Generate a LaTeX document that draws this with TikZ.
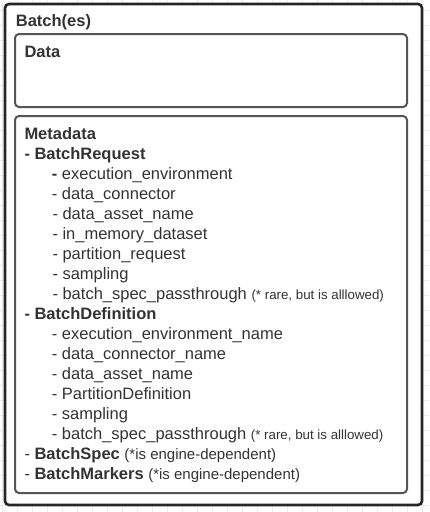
\documentclass[tikz,border=0pt]{standalone}
\usepackage{fontspec}
\setmainfont{Liberation Sans}
\definecolor{ink}{HTML}{333333}
\definecolor{outerline}{HTML}{262626}
\definecolor{innerline}{HTML}{555555}
\definecolor{gridline}{HTML}{EBEBEB}
\newcommand{\mainsize}{\fontsize{16.5}{20}\selectfont}
\newcommand{\notesize}{\fontsize{13.3}{16}\selectfont}
\newcommand{\engsize}{\fontsize{15}{18}\selectfont}
\begin{document}
\begin{tikzpicture}[x=1pt,y=-1pt,
  outerbox/.style={draw=outerline, line width=2.6pt, rounded corners=4pt, fill=white,
    anchor=north west, inner sep=0pt, outer sep=0pt},
  innerbox/.style={draw=innerline, line width=2pt, rounded corners=4pt, fill=white,
    anchor=north west, inner sep=0pt, outer sep=0pt},
  txt/.style={anchor=base west, inner sep=0pt, text=ink, font=\mainsize},
]
  % canvas and background grid
  \useasboundingbox (0,0) rectangle (429,512);
  \fill[white] (0,0) rectangle (429,512);
  \foreach \gx in {0,...,28} {
    \draw[gridline, line width=0.6pt] ({2.7+15*\gx},0) -- ({2.7+15*\gx},512);
  }
  \foreach \gy in {0,...,33} {
    \draw[gridline, line width=0.6pt] (0,{10+15*\gy}) -- (429,{10+15*\gy});
  }

  % containers
  \node[outerbox, minimum width=417pt, minimum height=501pt] (batch) at (5,4) {};
  \node[innerbox, minimum width=392pt, minimum height=73pt] (data) at (15,34) {};
  \node[innerbox, minimum width=392pt, minimum height=377pt] (meta) at (15,116) {};

  % titles
  \node[txt] (tbatch) at (15.7,26.7) {\textbf{Batch(es)}};
  \node[txt] (tdata) at (24.3,57.3) {\textbf{Data}};
  \node[txt] (tmeta) at (24.3,139.3) {\textbf{Metadata}};

  % BatchRequest
  \node[txt] (req) at (24.3,159.3) {\textbf{- BatchRequest}};
  \node[txt] (req1) at (51.7,179.3) {\textbf{-} execution\_environment};
  \node[txt] (req2) at (51.7,199.3) {- data\_connector};
  \node[txt] (req3) at (52.3,219.3) {- data\_asset\_name};
  \node[txt] (req4) at (52.3,239.3) {- in\_memory\_dataset};
  \node[txt] (req5) at (52.3,259.3) {- partition\_request};
  \node[txt] (req6) at (52.3,279.3) {- sampling};
  \node[txt] (req7) at (52.3,299.3) {- batch\_spec\_passthrough {\notesize(* rare, but is alllowed)}};

  % BatchDefinition
  \node[txt] (def) at (24.3,319) {\textbf{- BatchDefinition}};
  \node[txt] (def1) at (51.7,339) {- execution\_environment\_name};
  \node[txt] (def2) at (51.7,359) {- data\_connector\_name};
  \node[txt] (def3) at (51.7,379) {- data\_asset\_name};
  \node[txt] (def4) at (51.7,399) {- PartitionDefinition};
  \node[txt] (def5) at (51.7,419) {- sampling};
  \node[txt] (def6) at (51.7,439) {- batch\_spec\_passthrough {\notesize(* rare, but is alllowed)}};

  % engine-dependent entries
  \node[txt] (spec) at (24.3,459) {- \textbf{BatchSpec} {\engsize(*is engine-dependent)}};
  \node[txt] (mark) at (24.3,479) {- \textbf{BatchMarkers} {\engsize(*is engine-dependent)}};
\end{tikzpicture}
\end{document}
